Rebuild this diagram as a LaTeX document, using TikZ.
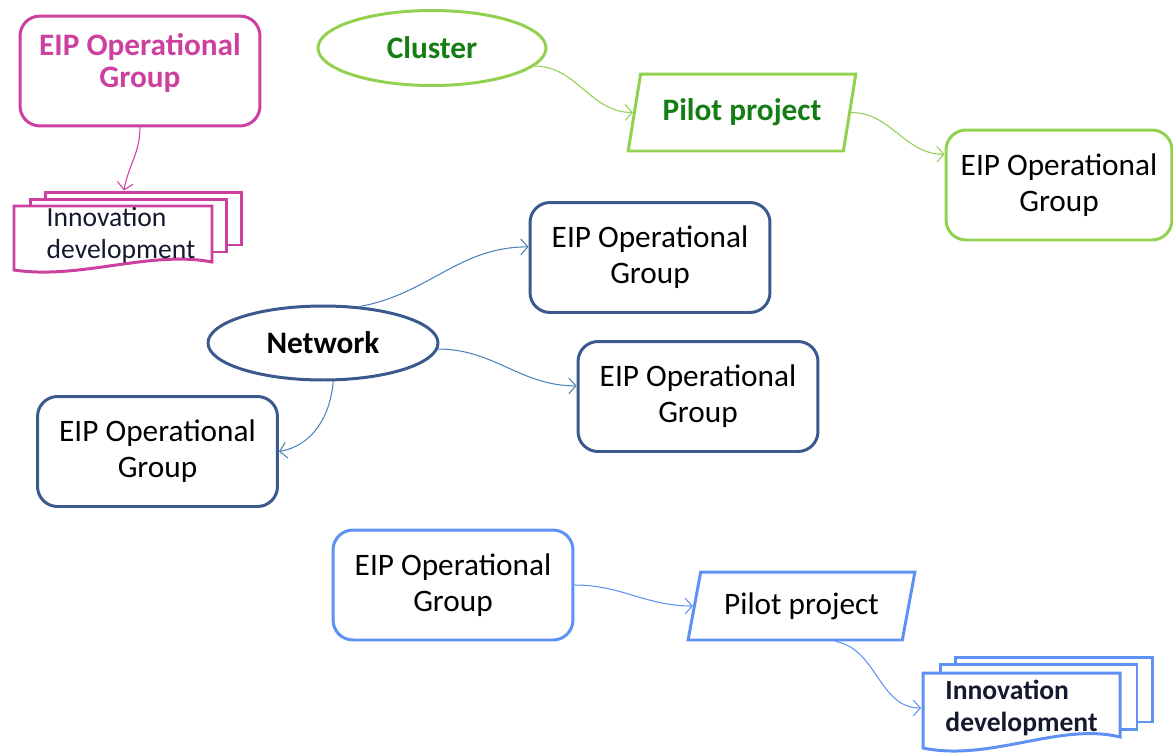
\documentclass[tikz,border=0pt]{standalone}
\usepackage{fontspec}
\setmainfont{Carlito}
\usetikzlibrary{shapes.geometric,arrows.meta}

\definecolor{eipmagenta}{RGB}{204,64,160}
\definecolor{eipgreen}{RGB}{146,208,80}
\definecolor{eipdkgreen}{RGB}{20,125,20}
\definecolor{eipnavy}{RGB}{59,89,140}
\definecolor{eiplink}{RGB}{79,129,189}
\definecolor{eipblue}{RGB}{95,145,245}
\definecolor{eiptext}{RGB}{20,25,45}

\begin{document}
\begin{tikzpicture}[x=0.02cm, y=-0.02cm, line width=1.7pt,
    every node/.style={font=\fontsize{17.8}{20.5}\selectfont},
    opgroup/.style={draw, rounded corners=0.4cm, align=center,
        minimum width=4.8cm, minimum height=2.2cm},
    oval/.style={draw, ellipse, font=\bfseries\fontsize{17.8}{20.5}\selectfont,
        minimum width=4.56cm, minimum height=1.5cm},
    pilot/.style={draw, trapezium, trapezium left angle=75,
        trapezium right angle=105, trapezium stretches=true,
        minimum width=4.56cm, minimum height=1.54cm},
    layer/.style={draw, fill=white, minimum width=3.94cm},
    doctext/.style={align=left, minimum width=3.96cm, text=eiptext},
    link/.style={line width=.6pt, -{Straight Barb[length=4pt,width=9pt]}}]
    \def\eip{EIP Operational\\Group}
    \def\innov{Innovation\\development}

    \useasboundingbox (0,0) rectangle (1173,754);

    % magenta: operational group and its innovation stack
    \node[opgroup, draw=eipmagenta, text=eipmagenta, text depth=11.6pt,
        font=\bfseries\fontsize{17.8}{18.4}\selectfont] (eipm) at (140,71) {\eip};
    \foreach \i/\cx/\cy in {3/143.5/218.5, 2/128.5/225.5}
        \node[layer, draw=eipmagenta, minimum height=1.06cm] (innovm\i) at (\cx,\cy) {};
    \draw[eipmagenta, fill=white] (14,206) -- (212,206) -- (212,262)
        .. controls (150,250) and (80,280) .. (14,270) -- cycle;
    \node[doctext, font=\fontsize{15.7}{17.9}\selectfont] (innovm) at (121,235) {\innov};
    \draw[link, eipmagenta] (eipm.south) to[out=-90, in=80] (innovm3.125);

    % green: cluster
    \node[oval, draw=eipgreen, text=eipdkgreen] (cluster) at (432,48) {Cluster};
    \node[pilot, draw=eipgreen, text=eipdkgreen,
        font=\bfseries\fontsize{17.8}{20.5}\selectfont] (pilotg) at (742,112.5) {Pilot project};
    \node[opgroup, draw=eipgreen, minimum width=4.52cm] (eipg) at (1059,185) {\eip};
    \draw[link, eipgreen] (cluster.-10) to[out=0, in=180] (pilotg.west);
    \draw[link, eipgreen] (pilotg.east) to[out=0, in=180] (eipg.165);

    % navy: network
    \node[oval, draw=eipnavy, minimum width=4.6cm, minimum height=1.48cm] (network) at (323,343) {Network};
    \node[opgroup, draw=eipnavy] (eipa) at (650,257.5) {\eip};
    \node[opgroup, draw=eipnavy] (eipb) at (698,396.5) {\eip};
    \node[opgroup, draw=eipnavy] (eipc) at (157.5,451.5) {\eip};
    \draw[link, eiplink] (network.45) to[out=10, in=180] (eipa.175);
    \draw[link, eiplink] (network.-3) to[out=0, in=180] (eipb.175);
    \draw[link, eiplink] (network.-75) to[out=-95, in=10] (eipc.east);

    % light blue: group, pilot, innovation stack
    \node[opgroup, draw=eipblue] (eipl) at (453,585) {\eip};
    \node[pilot, draw=eipblue, minimum width=4.54cm, minimum height=1.36cm] (pilotl) at (801.5,606) {Pilot project};
    \foreach \i/\cx/\cy in {3/1054/689.5, 2/1038.5/697}
        \node[layer, draw=eipblue, minimum height=1.3cm] (innovb\i) at (\cx,\cy) {};
    \draw[eipblue, fill=white] (923,673) -- (1120,673) -- (1120,737)
        .. controls (1060,722) and (990,762) .. (923,748) -- cycle;
    \node[doctext, font=\bfseries\fontsize{15.7}{17.9}\selectfont] (innovb) at (1021.5,708) {\innov};
    \draw[link, eipblue] (eipl.east) to[out=0, in=180] (pilotl.west);
    \draw[link, eipblue] ([xshift=0.68cm]pilotl.south) to[out=-10, in=180] (innovb.west);
\end{tikzpicture}
\end{document}
